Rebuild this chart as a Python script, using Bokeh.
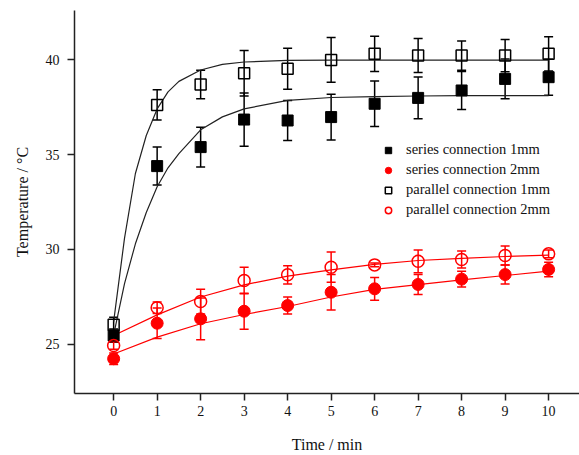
from bokeh.plotting import figure
from bokeh.models import Range1d, ColumnDataSource, Whisker, TeeHead, FixedTicker, Legend, LegendItem
from bokeh.embed import file_html
from bokeh.resources import INLINE

# ---- data ----
time = [0, 1, 2, 3, 4, 5, 6, 7, 8, 9, 10]

series_1mm = [25.47, 34.39, 35.39, 36.84, 36.79, 36.97, 37.67, 37.98, 38.37, 38.98, 39.07]
series_1mm_err = [0.35, 1.0, 1.05, 1.4, 1.05, 1.2, 1.2, 1.1, 1.0, 1.05, 0.95]

series_2mm = [24.25, 26.12, 26.35, 26.75, 27.05, 27.75, 27.93, 28.16, 28.44, 28.68, 28.95]
series_2mm_err = [0.3, 0.8, 1.1, 0.95, 0.45, 0.93, 0.6, 0.53, 0.42, 0.5, 0.38]

parallel_1mm = [26.04, 37.61, 38.68, 39.28, 39.51, 39.98, 40.30, 40.21, 40.21, 40.21, 40.30]
parallel_1mm_err = [0.4, 0.8, 0.75, 1.2, 1.08, 1.18, 0.93, 0.9, 0.77, 0.85, 0.9]

parallel_2mm = [24.95, 26.93, 27.26, 28.37, 28.67, 29.07, 29.19, 29.38, 29.47, 29.68, 29.77]
parallel_2mm_err = [0.2, 0.3, 0.65, 0.7, 0.48, 0.8, 0.1, 0.6, 0.45, 0.5, 0.2]

# fitted curves
fit_x_black = [0, 0.25, 0.5, 0.75, 1, 1.25, 1.5, 2, 2.5, 3, 4, 5, 6, 7, 8, 9, 10]
fit_series_1mm = [25.5, 28.2, 30.3, 31.95, 33.3, 34.3, 35.05, 36.3, 36.98, 37.4, 37.85, 38.0, 38.05, 38.08, 38.1, 38.1, 38.1]
fit_parallel_1mm = [26.2, 30.6, 34.0, 36.0, 37.4, 38.3, 38.85, 39.45, 39.74, 39.87, 39.95, 39.97, 39.97, 39.97, 39.97, 39.97, 39.97]
fit_x_red = [0, 1, 2, 3, 4, 5, 6, 7, 8, 9, 10]
fit_series_2mm = [24.5, 25.39, 26.09, 26.58, 27.0, 27.5, 27.9, 28.15, 28.4, 28.63, 28.86]
fit_parallel_2mm = [25.47, 26.56, 27.5, 28.14, 28.6, 28.93, 29.22, 29.42, 29.53, 29.63, 29.7]

legend_labels = ["series connection 1mm", "series connection 2mm",
                 "parallel connection 1mm", "parallel connection 2mm"]
y_ticks = [25, 30, 35, 40]

FONT = "Liberation Serif"
RED = "#ff0000"

p = figure(width=579, height=455, title=None,
           x_range=Range1d(-0.9, 10.71), y_range=Range1d(22.42, 42.58),
           output_backend="svg", toolbar_location=None,
           min_border_left=74, min_border_right=0, min_border_top=10, min_border_bottom=62)

p.grid.visible = False
p.outline_line_color = None
p.background_fill_color = "white"
p.border_fill_color = "white"

for ax in (p.xaxis[0], p.yaxis[0]):
    ax.axis_line_color = "#222222"
    ax.axis_line_width = 1.5
    ax.major_tick_line_color = "#222222"
    ax.major_tick_line_width = 1.5
    ax.major_tick_out = 7
    ax.major_tick_in = 0
    ax.minor_tick_line_color = None
    ax.major_label_text_font = FONT
    ax.major_label_text_font_size = "14px"
    ax.major_label_text_color = "#111111"
    ax.axis_label_text_font = FONT
    ax.axis_label_text_font_size = "16px"
    ax.axis_label_text_font_style = "normal"
    ax.axis_label_text_color = "#111111"

p.xaxis.ticker = FixedTicker(ticks=time)
p.yaxis.ticker = FixedTicker(ticks=y_ticks)
p.xaxis.axis_label = "Time / min"
p.yaxis.axis_label = "Temperature / \u00b0C"
p.xaxis.major_label_standoff = 5
p.yaxis.major_label_standoff = 8
p.xaxis.axis_label_standoff = 17
p.yaxis.axis_label_standoff = 12

# fitted curves
p.line(fit_x_black, fit_series_1mm, line_color="#222222", line_width=1.2)
p.line(fit_x_black, fit_parallel_1mm, line_color="#222222", line_width=1.2)
p.line(fit_x_red, fit_series_2mm, line_color=RED, line_width=1.2)
p.line(fit_x_red, fit_parallel_2mm, line_color=RED, line_width=1.2)

def add_series(vals, errs, color, marker, filled):
    src = ColumnDataSource(dict(
        x=time, y=vals,
        lo=[v - e for v, e in zip(vals, errs)],
        hi=[v + e for v, e in zip(vals, errs)]))
    w = Whisker(source=src, base="x", lower="lo", upper="hi",
                line_color=color, line_width=1.5,
                upper_head=TeeHead(size=9, line_color=color, line_width=1.5),
                lower_head=TeeHead(size=9, line_color=color, line_width=1.5))
    p.add_layout(w)
    size = 11 if marker == "square" else 12
    if filled:
        r = p.scatter("x", "y", source=src, marker=marker, size=size,
                      fill_color=color, line_color=color, line_width=1)
    else:
        r = p.scatter("x", "y", source=src, marker=marker, size=size,
                      fill_color=None, line_color=color, line_width=1.5)
    return r

r1 = add_series(series_1mm, series_1mm_err, "black", "square", True)
r2 = add_series(series_2mm, series_2mm_err, RED, "circle", True)
r3 = add_series(parallel_1mm, parallel_1mm_err, "black", "square", False)
r4 = add_series(parallel_2mm, parallel_2mm_err, RED, "circle", False)

legend = Legend(items=[LegendItem(label=legend_labels[0], renderers=[r1]),
                       LegendItem(label=legend_labels[1], renderers=[r2]),
                       LegendItem(label=legend_labels[2], renderers=[r3]),
                       LegendItem(label=legend_labels[3], renderers=[r4])],
                location=(304, 175), border_line_color=None, background_fill_alpha=0,
                label_text_font=FONT, label_text_font_size="14.5px", label_text_color="#111111",
                glyph_width=20, glyph_height=16, label_height=16, label_standoff=8,
                spacing=3, padding=10, margin=0)
p.add_layout(legend, "center")

open("out.html", "w").write(file_html(p, INLINE))
